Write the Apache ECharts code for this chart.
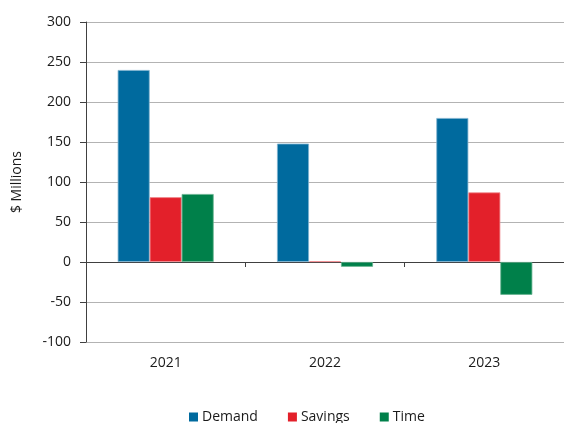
<!DOCTYPE html>
<html>
<head>
<meta charset="utf-8">
<script src="https://cdn.jsdelivr.net/npm/echarts@6/dist/echarts.min.js"></script>
<style>
  html, body { margin: 0; padding: 0; background: #fff; }
  #chart { width: 564px; height: 423px; }
</style>
</head>
<body>
<div id="chart"></div>
<script>
// Yearly figures in $ millions
const years = ['2021', '2022', '2023'];
const demand = [240, 148, 180];
const savings = [81, 1, 87];
const time = [85, -6, -41];

const seriesNames = ['Demand', 'Savings', 'Time'];
const seriesColors = ['#006a9e', '#e3202a', '#00804a'];
const seriesBorders = ['#7fb3cf', '#f08a8e', '#66b38f'];

const FONT = '"Open Sans", "Liberation Sans", Arial, sans-serif';
const FS = 14;

const chart = echarts.init(document.getElementById('chart'), null, { renderer: 'canvas' });

function barSeries(i, values) {
  return {
    name: seriesNames[i],
    type: 'bar',
    xAxisIndex: 0,
    yAxisIndex: 0,
    data: values,
    barWidth: 32,
    barGap: '0%',
    itemStyle: { color: seriesColors[i], borderColor: seriesBorders[i], borderWidth: 0.8 },
    emphasis: { disabled: true }
  };
}

chart.setOption({
  animation: false,
  backgroundColor: '#ffffff',
  textStyle: { fontFamily: FONT },
  grid: { left: 86, right: -2, top: 22, bottom: 81, containLabel: false },
  legend: {
    top: 405,
    left: 184,
    itemWidth: 9,
    itemHeight: 9,
    itemGap: 30,
    icon: 'rect',
    itemStyle: { borderWidth: 0 },
    textStyle: { fontSize: FS, color: '#1a1a1a', fontFamily: FONT, padding: [0, 0, 0, -1] },
    data: seriesNames
  },
  xAxis: [
    {
      type: 'category',
      data: years,
      axisLine: { onZero: true, lineStyle: { color: '#404040', width: 1 } },
      axisTick: { show: true, alignWithLabel: false, length: 5, lineStyle: { color: '#404040' } },
      axisLabel: { show: false },
      splitLine: { show: false }
    },
    {
      type: 'category',
      data: years,
      position: 'bottom',
      axisLine: { show: false, onZero: false },
      axisTick: { show: false },
      axisLabel: { show: true, fontSize: FS, color: '#1a1a1a', margin: 14, fontFamily: FONT },
      splitLine: { show: false }
    }
  ],
  yAxis: {
    type: 'value',
    min: -100,
    max: 300,
    interval: 50,
    name: '$ Millions',
    nameLocation: 'middle',
    nameGap: 62,
    nameTextStyle: { fontSize: FS, color: '#1a1a1a', fontFamily: FONT },
    axisLine: { show: true, lineStyle: { color: '#404040' } },
    axisTick: { show: true, length: 6, lineStyle: { color: '#404040' } },
    axisLabel: { fontSize: FS, color: '#1a1a1a', margin: 15, fontFamily: FONT },
    splitLine: { show: true, lineStyle: { color: '#b3b3b3', width: 1 } }
  },
  series: [
    barSeries(0, demand),
    barSeries(1, savings),
    barSeries(2, time)
  ]
});
</script>
</body>
</html>
